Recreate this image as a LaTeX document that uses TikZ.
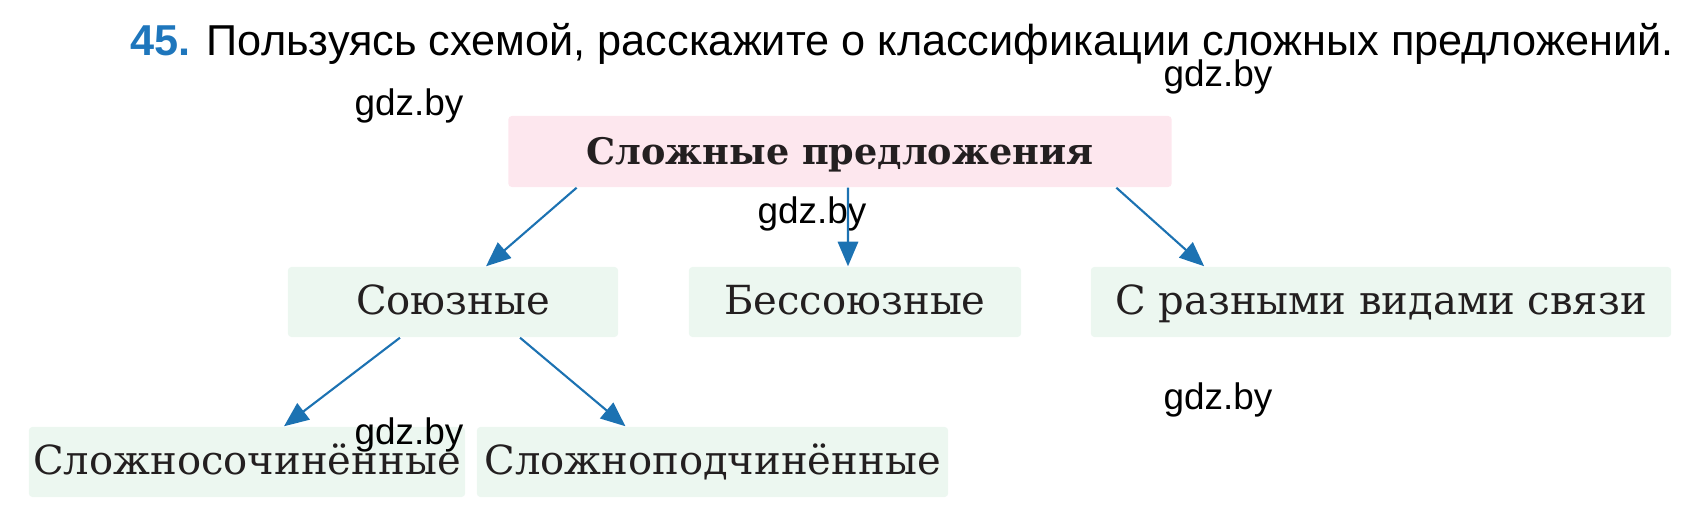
\documentclass[tikz,border=0pt]{standalone}
\usepackage{fontspec}
\setmainfont{DejaVu Serif}
\newfontfamily\headfont{Liberation Sans}
\usetikzlibrary{arrows.meta}
\definecolor{arrowblue}{RGB}{28,114,178}
\definecolor{numblue}{RGB}{30,118,188}
\definecolor{pinkfill}{RGB}{253,231,238}
\definecolor{greenfill}{RGB}{236,247,240}
\definecolor{boxtext}{RGB}{35,31,32}
\tikzset{x=0.01cm, y=-0.01cm,
 box/.style={fill=greenfill, rounded corners=1pt, inner sep=0pt,
   minimum height=0.70cm, text height=0.73em, text depth=0pt,
   text=boxtext, font=\fontsize{11.4}{13}\selectfont},
 headbox/.style={box, fill=pinkfill, minimum height=0.71cm, font=\fontsize{10.4}{12}\selectfont\bfseries},
 link/.style={draw=arrowblue, line width=0.6pt, -{Triangle[length=7pt,width=5.8pt]}},
 wmark/.style={inner sep=0pt, font=\headfont\fontsize{10.5}{12}\selectfont},
 }

\begin{document}
\begin{tikzpicture}
        \useasboundingbox (0,0) rectangle (1699,513);
        \node[anchor=base west, inner sep=0pt, font=\headfont\fontsize{12.3}{15}\selectfont] (task) at (130,56)
            {{\color{numblue}\bfseries 45.} Пользуясь схемой, расскажите о классификации сложных предложений.};

        \node[headbox, minimum width=6.63cm] (head) at (840,151.5) {Сложные предложения};

        \node[box, minimum width=3.30cm] (sojuz) at (453,302) {Союзные};
        \node[box, minimum width=3.32cm] (bessojuz) at (855,302) {Бессоюзные};
        \node[box, minimum width=5.80cm] (mixed) at (1381,302) {С разными видами связи};

        \node[box, minimum width=4.36cm] (socin) at (247,462) {Сложносочинённые};
        \node[box, minimum width=4.71cm] (podcin) at (712.5,462) {Сложноподчинённые};

        \foreach \wx/\wy [count=\i] in {409/106, 1218/77, 812/214, 1218/400, 409/435} {
            \node[wmark] (gdz\i) at (\wx,\wy) {gdz.by};
        }

        \draw[link] ([xshift=0.69cm]head.south west) -- ([xshift=0.33cm]sojuz.north);
        \draw[link] ([xshift=0.08cm]head.south) -- ([xshift=-0.07cm]bessojuz.north);
        \draw[link] ([xshift=-0.56cm]head.south east) -- ([xshift=1.14cm]mixed.north west);
        \draw[link] ([xshift=-0.53cm]sojuz.south) -- ([xshift=0.37cm]socin.north);
        \draw[link] ([xshift=0.67cm]sojuz.south) -- ([xshift=-0.87cm]podcin.north);
    \end{tikzpicture}
\end{document}
